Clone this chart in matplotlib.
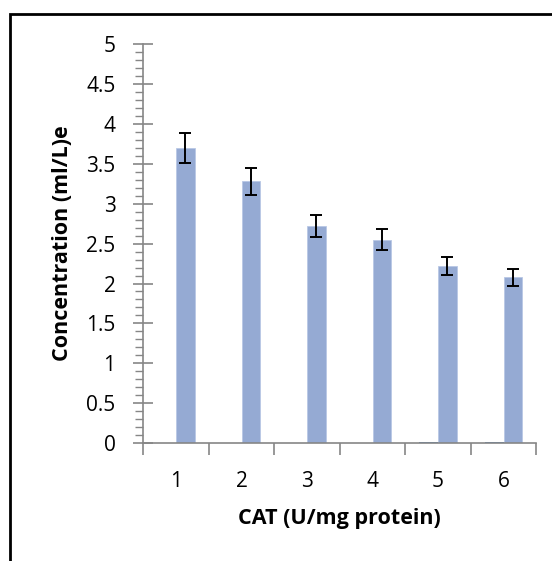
import matplotlib
matplotlib.use("Agg")
import matplotlib.pyplot as plt
from matplotlib.ticker import MultipleLocator, FixedLocator, NullFormatter
from matplotlib.patches import Rectangle

plt.rcParams['font.family'] = ['Open Sans', 'DejaVu Sans']

categories = ["1", "2", "3", "4", "5", "6"]
baseline_series = [0.0, 0.0, 0.0, 0.0, 0.01, 0.01]
concentration = [3.70, 3.28, 2.72, 2.55, 2.22, 2.08]
concentration_err = [0.19, 0.165, 0.14, 0.13, 0.115, 0.105]

fig = plt.figure(figsize=(5.52, 5.61), dpi=100)
ax = fig.add_axes([143.3 / 552, 1 - 443 / 561, (536.3 - 143.3) / 552, (443 - 44.3) / 561])

# outer chart frame (runs off the right and bottom edges)
fig.patches.append(Rectangle((10 / 552, -0.05), 1.0, 1 - 14 / 561 + 0.05,
                             transform=fig.transFigure, fill=False,
                             edgecolor='black', linewidth=2.0, clip_on=True))

x = list(range(1, len(categories) + 1))
width = 1 / 3.5  # two series, 150% gap
ax.bar([xi - width / 2 for xi in x], baseline_series, width=width,
       color='#4F81BD', linewidth=0)
ax.bar([xi + width / 2 for xi in x], concentration, width=width,
       color='#95AAD3', edgecolor='#B9C8E5', linewidth=0.6)
ax.errorbar([xi + width / 2 for xi in x], concentration, yerr=concentration_err,
            fmt='none', ecolor='black', elinewidth=1.4, capsize=4.5, capthick=1.4)

ax.set_xlim(0.5, 6.5)
ax.set_ylim(0, 5)

ax.spines['top'].set_visible(False)
ax.spines['right'].set_visible(False)
for s in ('left', 'bottom'):
    ax.spines[s].set_color('#868686')
    ax.spines[s].set_linewidth(1.2)

# x axis: tick marks between categories, labels at centres
ax.xaxis.set_major_locator(FixedLocator([0.5 + i for i in range(7)]))
ax.xaxis.set_major_formatter(NullFormatter())
ax.xaxis.set_minor_locator(FixedLocator(x))
ax.set_xticklabels(categories, minor=True)
ax.tick_params(axis='x', which='major', direction='out', length=8.5,
               color='#868686', width=1.2)
ax.tick_params(axis='x', which='minor', length=0, pad=20, labelsize=15)

# y axis
ax.set_yticks([i * 0.5 for i in range(11)])
ax.set_yticklabels(['0', '0.5', '1', '1.5', '2', '2.5', '3', '3.5', '4', '4.5', '5'])
ax.yaxis.set_minor_locator(MultipleLocator(0.1))
ax.tick_params(axis='y', which='major', direction='inout', length=15,
               color='#868686', width=1.2, labelsize=15, pad=12.5)
ax.tick_params(axis='y', which='minor', direction='out', length=6,
               color='#868686', width=1.0)

ax.set_xlabel('CAT (U/mg protein)', fontsize=15.5, fontweight='bold')
ax.set_ylabel('Concentration (ml/L)e', fontsize=15.5, fontweight='bold')
ax.xaxis.set_label_coords(0.5, -0.163)
ax.yaxis.set_label_coords(-0.18, 0.5)

fig.savefig('out.png', dpi=100)
